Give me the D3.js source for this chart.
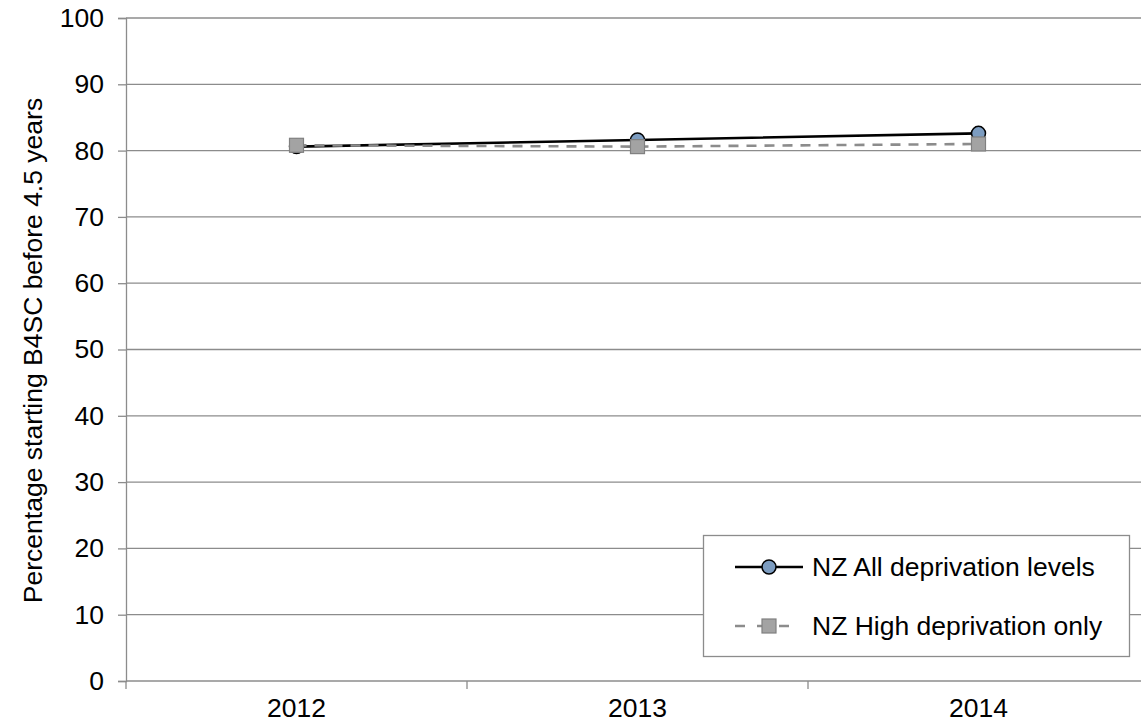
<!DOCTYPE html>
<html>
<head>
<meta charset="utf-8">
<script src="https://cdn.jsdelivr.net/npm/d3@7"></script>
<style>
  html, body { margin: 0; padding: 0; background: #fff; }
  svg text { font-family: "Liberation Sans", Arial, sans-serif; fill: #000; }
</style>
</head>
<body>
<svg id="chart" width="1141" height="722"></svg>
<script>
// Years on the category axis
const years = ["2012", "2013", "2014"];
// Percentage starting B4SC before 4.5 years
const allLevels = [80.6, 81.6, 82.6];
const highOnly = [80.8, 80.6, 81.0];
const yTicks = [0, 10, 20, 30, 40, 50, 60, 70, 80, 90, 100];
const seriesNames = ["NZ All deprivation levels", "NZ High deprivation only"];

(function draw() {
const svg = d3.select("#chart");
const pLeft = 126, pRight = 1149, pTop = 18, pBottom = 681;
const fontSize = "26.5px";

const x = d3.scaleBand().domain(years).range([pLeft, pRight]).padding(0);
const y = d3.scaleLinear().domain([0, 100]).range([pBottom, pTop]);
const gridColor = "#8c8c8c";

// Horizontal gridlines
svg.append("g").selectAll("line").data(yTicks.filter(d => d > 0)).join("line")
  .attr("x1", pLeft).attr("x2", pRight)
  .attr("y1", d => y(d)).attr("y2", d => y(d))
  .attr("stroke", gridColor).attr("stroke-width", 1.3);

// Y axis
const yAxis = svg.append("g").attr("transform", `translate(${pLeft},0)`)
  .call(d3.axisLeft(y).tickValues(yTicks).tickSize(8).tickPadding(14));
yAxis.select(".domain").attr("stroke", gridColor).attr("stroke-width", 1.3);
yAxis.selectAll(".tick line").attr("stroke", gridColor).attr("stroke-width", 1.3);
yAxis.selectAll(".tick text").style("font-size", fontSize).attr("fill", "#000")
  .attr("font-family", null);

// X axis: ticks at band boundaries, labels at band centres
const xg = svg.append("g").attr("transform", `translate(0,${pBottom})`);
xg.append("line").attr("x1", pLeft).attr("x2", pRight)
  .attr("stroke", gridColor).attr("stroke-width", 1.3);
const bounds = years.map(d => x(d)).concat([x(years[years.length - 1]) + x.bandwidth()]);
xg.selectAll("line.tk").data(bounds).join("line").attr("class", "tk")
  .attr("x1", d => d).attr("x2", d => d).attr("y1", 0).attr("y2", 8)
  .attr("stroke", gridColor).attr("stroke-width", 1.3);
xg.selectAll("text").data(years).join("text")
  .attr("x", d => x(d) + x.bandwidth() / 2).attr("y", 36)
  .attr("text-anchor", "middle").style("font-size", fontSize).text(d => d);

// Y axis title
svg.append("text")
  .attr("transform", `translate(42,${(pTop + pBottom) / 2 + 1}) rotate(-90)`)
  .attr("text-anchor", "middle").style("font-size", fontSize)
  .text("Percentage starting B4SC before 4.5 years");

const cx = d => x(d) + x.bandwidth() / 2;
const line = d3.line().x(d => cx(d[0])).y(d => y(d[1]));

// Series 1: solid black with blue circles
const s1 = years.map((d, i) => [d, allLevels[i]]);
svg.append("path").datum(s1).attr("d", line)
  .attr("fill", "none").attr("stroke", "#000").attr("stroke-width", 2.6);
svg.append("g").selectAll("circle").data(s1).join("circle")
  .attr("cx", d => cx(d[0])).attr("cy", d => y(d[1])).attr("r", 7)
  .attr("fill", "#7c9cc0").attr("stroke", "#000").attr("stroke-width", 1.5);

// Series 2: dashed grey with grey squares
const s2 = years.map((d, i) => [d, highOnly[i]]);
svg.append("path").datum(s2).attr("d", line)
  .attr("fill", "none").attr("stroke", "#8c8c8c").attr("stroke-width", 2.6)
  .attr("stroke-dasharray", "10,8");
svg.append("g").selectAll("rect").data(s2).join("rect")
  .attr("x", d => cx(d[0]) - 7).attr("y", d => y(d[1]) - 7)
  .attr("width", 14).attr("height", 14)
  .attr("fill", "#a3a3a3").attr("stroke", "#808080").attr("stroke-width", 1.2);

// Legend
const lg = svg.append("g");
lg.append("rect").attr("x", 703.5).attr("y", 535.5).attr("width", 426).attr("height", 121)
  .attr("fill", "#fff").attr("stroke", "#8c8c8c").attr("stroke-width", 1.3);
const rowY = [567, 626];
// row 1
lg.append("line").attr("x1", 735).attr("x2", 803).attr("y1", rowY[0]).attr("y2", rowY[0])
  .attr("stroke", "#000").attr("stroke-width", 2.6);
lg.append("circle").attr("cx", 769).attr("cy", rowY[0]).attr("r", 7)
  .attr("fill", "#7c9cc0").attr("stroke", "#000").attr("stroke-width", 1.5);
// row 2
lg.append("line").attr("x1", 735).attr("x2", 792).attr("y1", rowY[1]).attr("y2", rowY[1])
  .attr("stroke", "#8c8c8c").attr("stroke-width", 2.6).attr("stroke-dasharray", "10,12");
lg.append("rect").attr("x", 762).attr("y", rowY[1] - 7).attr("width", 14).attr("height", 14)
  .attr("fill", "#a3a3a3").attr("stroke", "#808080").attr("stroke-width", 1.2);
lg.selectAll("text").data(seriesNames).join("text")
  .attr("x", 812).attr("y", (d, i) => rowY[i] + 9)
  .style("font-size", fontSize).text(d => d);
})();
</script>
</body>
</html>
